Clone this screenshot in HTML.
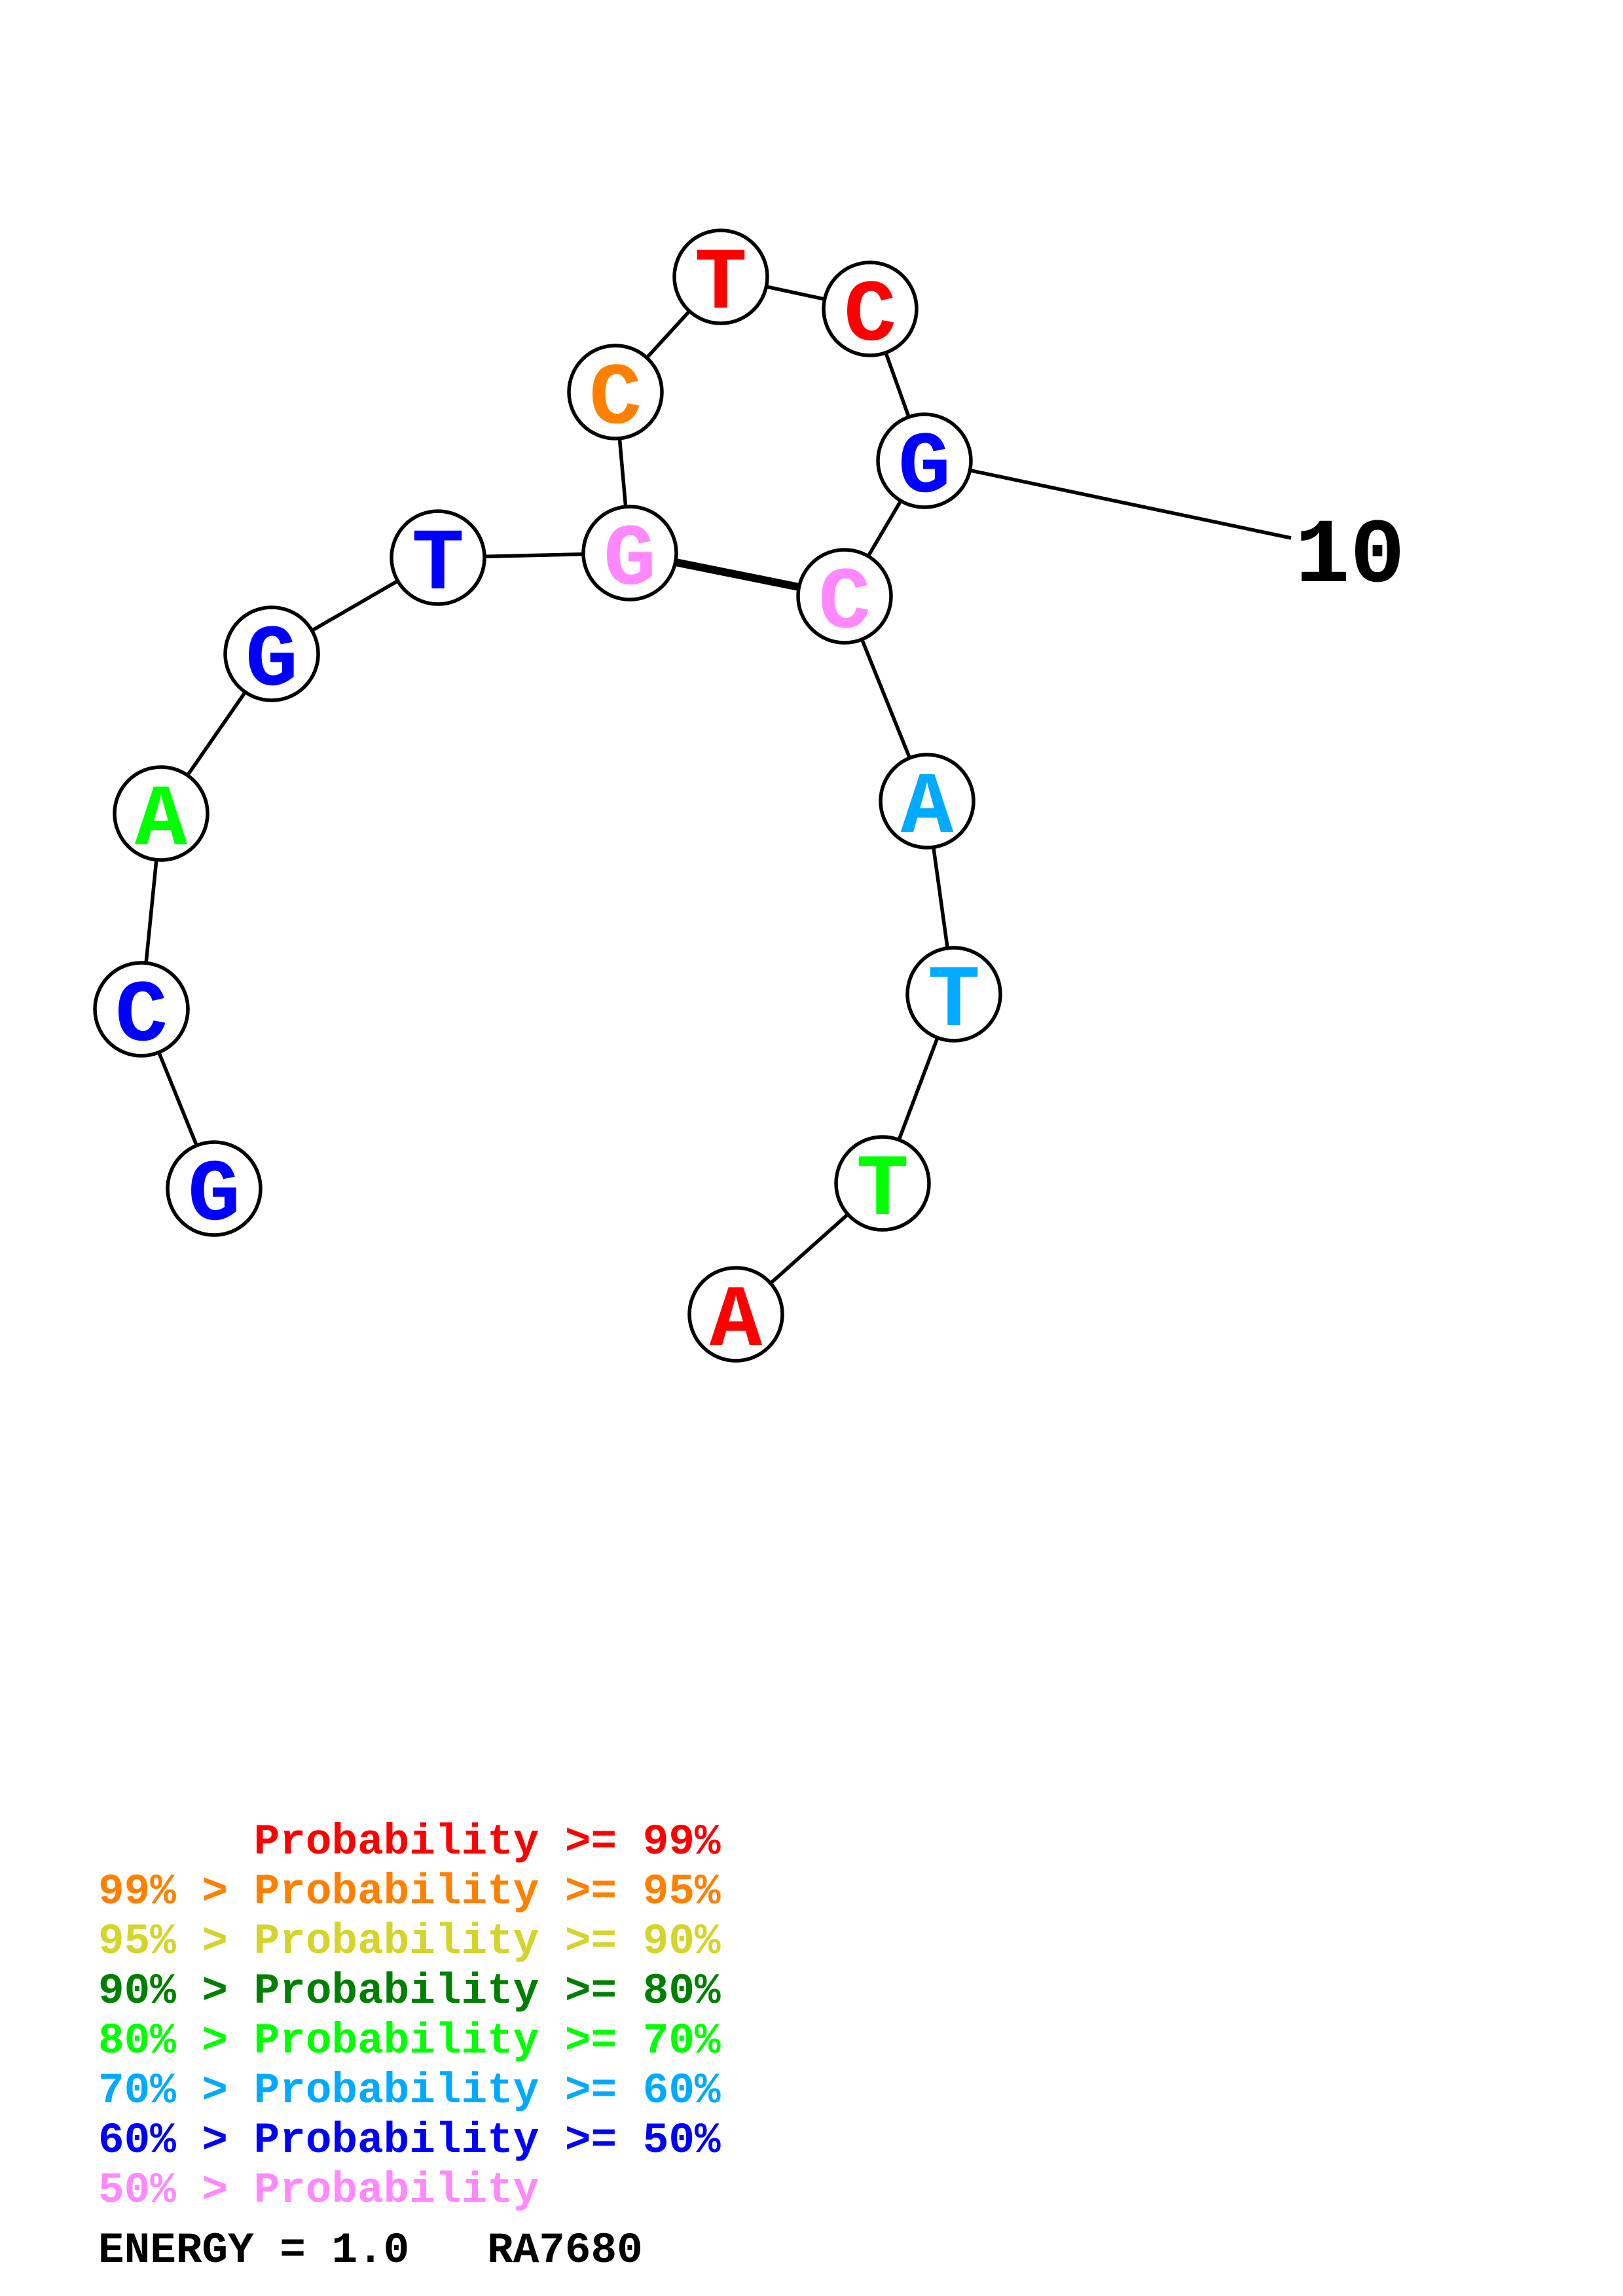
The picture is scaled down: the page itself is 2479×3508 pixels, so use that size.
<!DOCTYPE html>
<html><head><meta charset="utf-8"><style>html,body{margin:0;padding:0;background:#fff}svg{display:block}</style></head><body>
<svg width="2479" height="3508" viewBox="0 0 2479 3508" xmlns="http://www.w3.org/2000/svg">
<rect width="2479" height="3508" fill="#fff"/>
<g stroke="#000" stroke-width="5.5" fill="none">
<polyline points="327,1816 216,1542 246,1243 415,999 669,852 962,845"/>
<polyline points="962,845 940,599 1101,423 1329,472 1412,704 1290,911 1416,1224 1457,1519 1348,1808 1124,2008"/>
<line x1="1412" y1="704" x2="1972" y2="822"/>
<line x1="962" y1="845" x2="1290" y2="911" stroke-width="12"/>
</g>
<g stroke="#000" stroke-width="5.5" fill="#fff">
<circle cx="1101" cy="423" r="71"/><circle cx="1329" cy="472" r="71"/><circle cx="940" cy="599" r="71"/>
<circle cx="1412" cy="704" r="71"/><circle cx="669" cy="852" r="71"/><circle cx="962" cy="845" r="71"/>
<circle cx="1290" cy="911" r="71"/><circle cx="415" cy="999" r="71"/><circle cx="246" cy="1243" r="71"/>
<circle cx="1416" cy="1224" r="71"/><circle cx="216" cy="1542" r="71"/><circle cx="1457" cy="1519" r="71"/>
<circle cx="327" cy="1816" r="71"/><circle cx="1348" cy="1808" r="71"/><circle cx="1124" cy="2008" r="71"/>
</g>
<g font-family="Liberation Mono, monospace" font-weight="bold" font-size="134" text-anchor="middle">
<text x="1101" y="470" fill="#ff0000">T</text>
<text x="1329" y="519" fill="#ff0000">C</text>
<text x="940" y="646" fill="#ff8000">C</text>
<text x="1412" y="751" fill="#0000ff">G</text>
<text x="669" y="899" fill="#0000ff">T</text>
<text x="962" y="892" fill="#ff88ff">G</text>
<text x="1290" y="958" fill="#ff88ff">C</text>
<text x="415" y="1046" fill="#0000ff">G</text>
<text x="246" y="1290" fill="#00ff00">A</text>
<text x="1416" y="1271" fill="#00aaff">A</text>
<text x="216" y="1589" fill="#0000ff">C</text>
<text x="1457" y="1566" fill="#00aaff">T</text>
<text x="327" y="1863" fill="#0000ff">G</text>
<text x="1348" y="1855" fill="#00ff00">T</text>
<text x="1124" y="2055" fill="#ff0000">A</text>
</g>
<text x="1978" y="888" font-family="Liberation Mono, monospace" font-weight="bold" font-size="140">10</text>
<g font-family="Liberation Mono, monospace" font-weight="bold" font-size="66" style="white-space:pre">
<text x="150" y="2832" fill="#ff0000" xml:space="preserve">      Probability &gt;= 99%</text>
<text x="150" y="2908" fill="#ff8000" xml:space="preserve">99% &gt; Probability &gt;= 95%</text>
<text x="150" y="2984" fill="#d4d42a" xml:space="preserve">95% &gt; Probability &gt;= 90%</text>
<text x="150" y="3060" fill="#008000" xml:space="preserve">90% &gt; Probability &gt;= 80%</text>
<text x="150" y="3136" fill="#00ff00" xml:space="preserve">80% &gt; Probability &gt;= 70%</text>
<text x="150" y="3212" fill="#00aaff" xml:space="preserve">70% &gt; Probability &gt;= 60%</text>
<text x="150" y="3288" fill="#0000ff" xml:space="preserve">60% &gt; Probability &gt;= 50%</text>
<text x="150" y="3364" fill="#ff88ff" xml:space="preserve">50% &gt; Probability</text>
<text x="150" y="3456" fill="#000" xml:space="preserve">ENERGY = 1.0   RA7680</text>
</g>
</svg>
</body></html>
